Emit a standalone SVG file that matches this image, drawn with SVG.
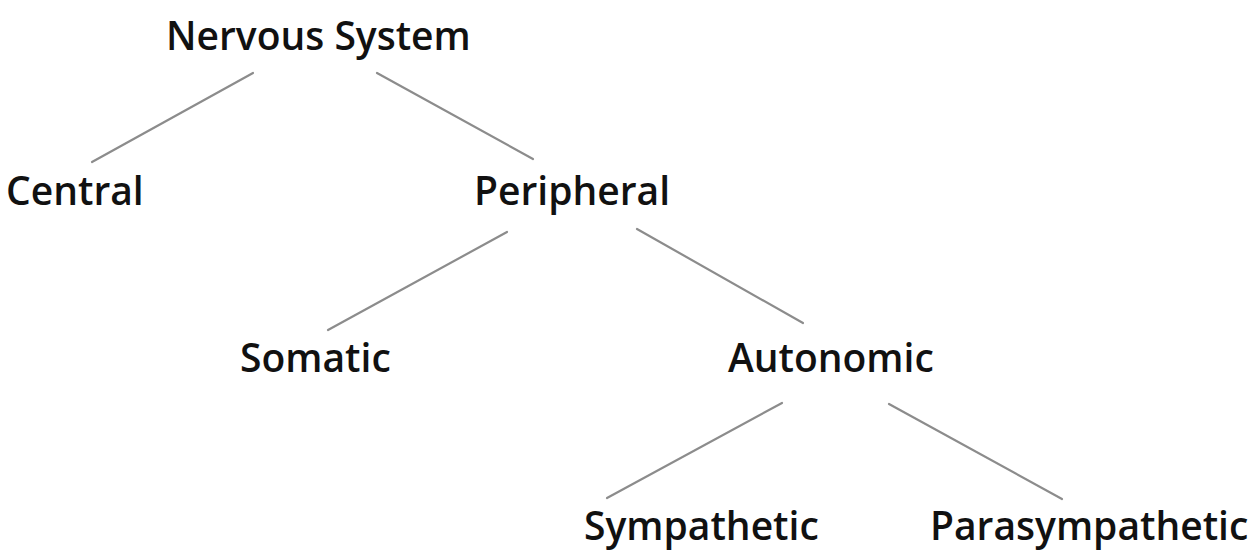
<svg xmlns="http://www.w3.org/2000/svg" width="1256" height="557" viewBox="0 0 1256 557">
  <style>
    .label { font-family: "Open Sans", "Liberation Sans", sans-serif; font-size: 39px; font-weight: 600; fill: #111111; }
    .edge { stroke: #8c8c8c; stroke-width: 2.2; stroke-linecap: round; fill: none; }
  </style>
  <rect width="1256" height="557" fill="#ffffff"/>
  <!-- tree edges, parent to child -->
  <g id="connectors">
    <line class="edge" x1="253" y1="73" x2="92" y2="162"/>
    <line class="edge" x1="377" y1="73" x2="533" y2="159"/>
    <line class="edge" x1="507" y1="232" x2="328" y2="330"/>
    <line class="edge" x1="637" y1="229" x2="803" y2="323"/>
    <line class="edge" x1="782" y1="403" x2="607" y2="498"/>
    <line class="edge" x1="889" y1="404" x2="1062" y2="499"/>
  </g>
  <g id="nervous-system"><text class="label" x="166" y="50">Nervous System</text></g>
  <g id="central"><text class="label" x="6" y="205">Central</text></g>
  <g id="peripheral"><text class="label" x="474" y="205">Peripheral</text></g>
  <g id="somatic"><text class="label" x="240" y="372">Somatic</text></g>
  <g id="autonomic"><text class="label" x="728" y="372">Autonomic</text></g>
  <g id="sympathetic"><text class="label" x="584" y="540">Sympathetic</text></g>
  <g id="parasympathetic"><text class="label" x="930" y="540">Parasympathetic</text></g>
</svg>
